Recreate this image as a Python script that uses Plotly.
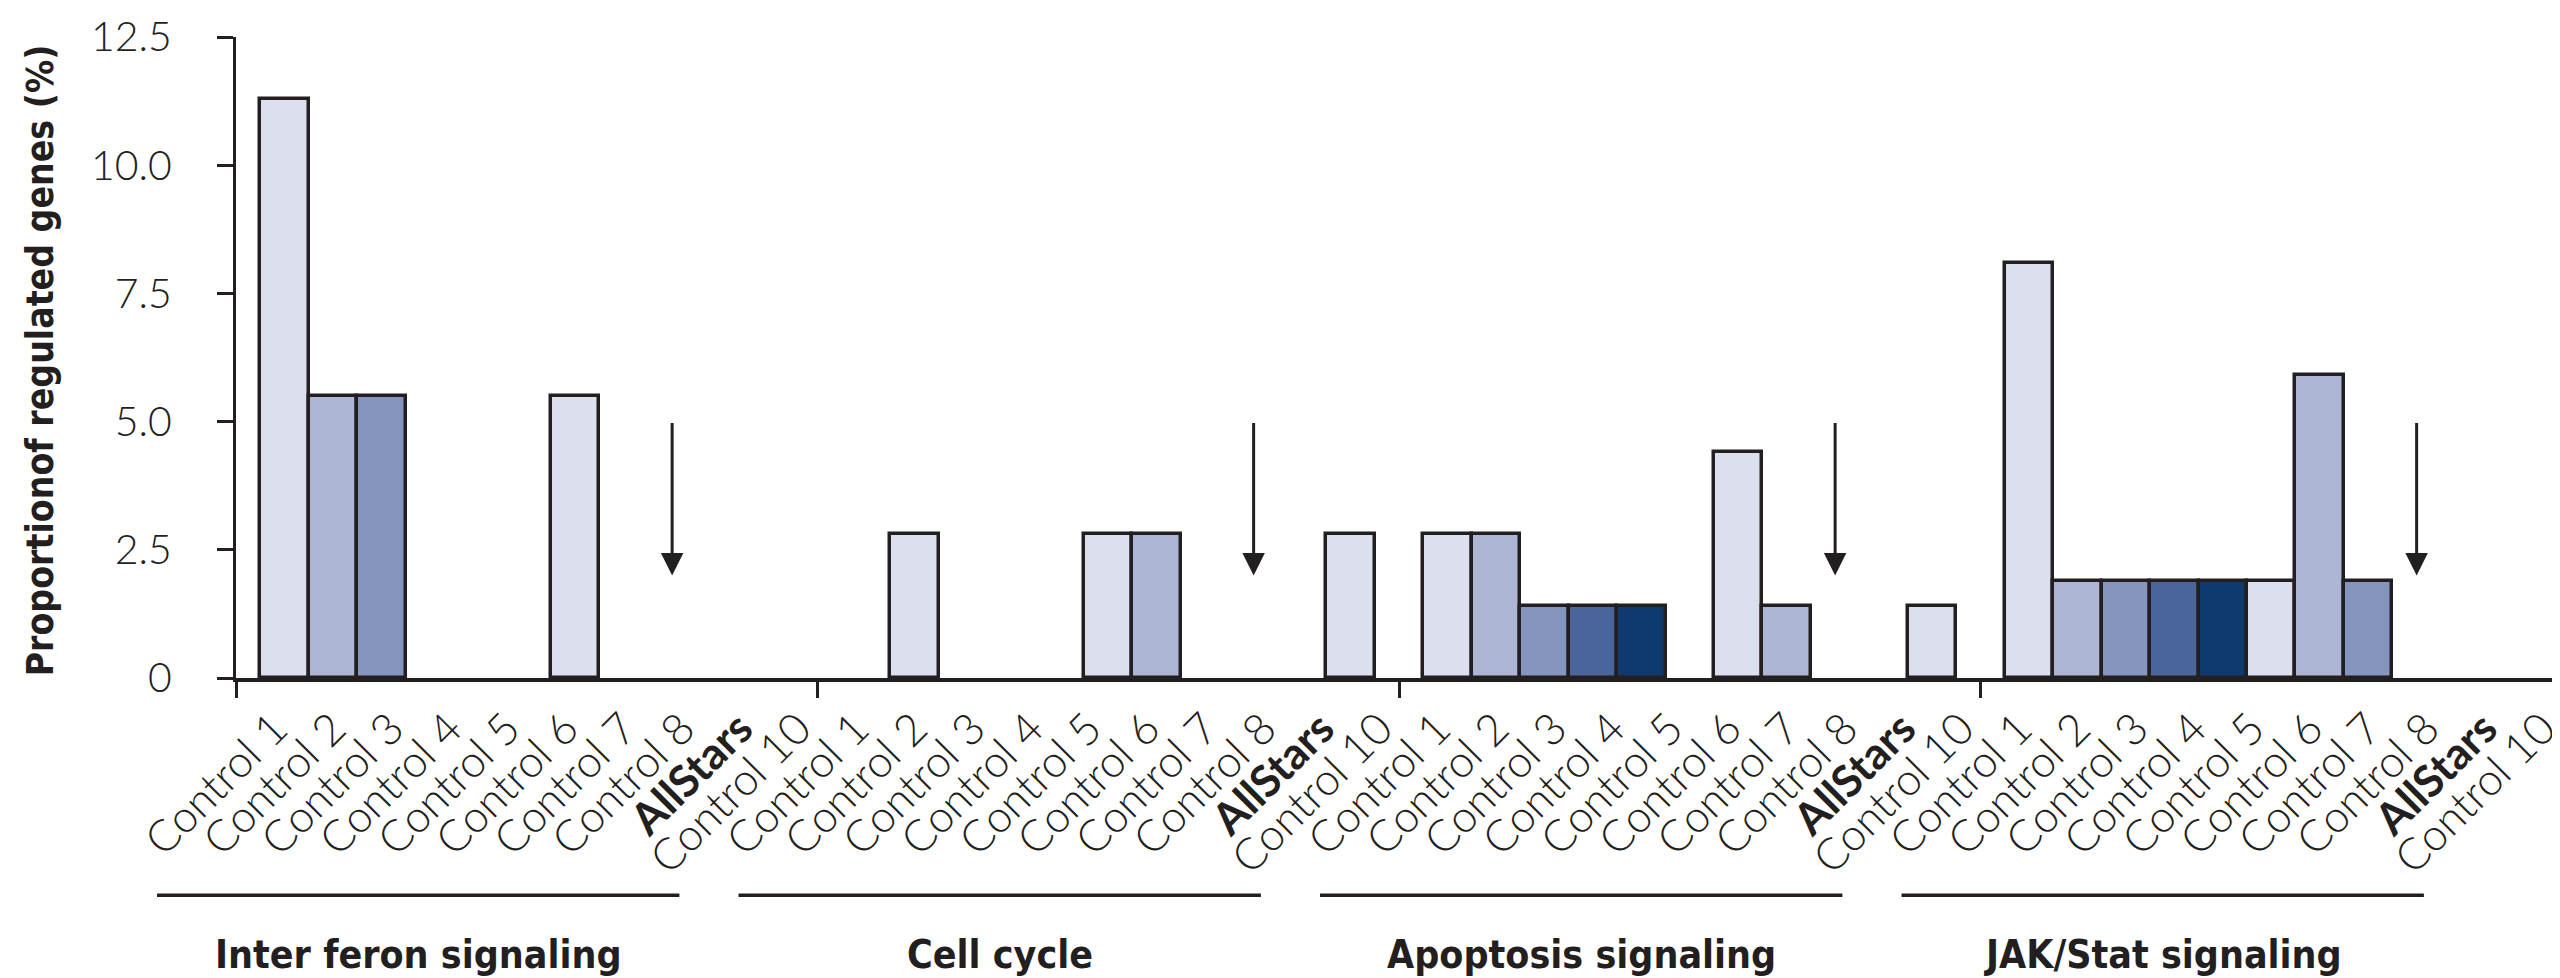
import plotly.graph_objects as go

# ---------------- data ----------------
groups = ["Inter feron signaling", "Cell cycle", "Apoptosis signaling", "JAK/Stat signaling"]
sample_labels = ["Control 1", "Control 2", "Control 3", "Control 4", "Control 5",
                 "Control 6", "Control 7", "Control 8", "AllStars", "Control 10"]

# bar heights (%) per group, by bar slot (slot 10 sits in the gap after the group)
interferon = [11.3, 5.5, 5.5, None, None, None, 5.5, None, None, None, None]
cell_cycle = [None, 2.8, None, None, None, 2.8, 2.8, None, None, None, 2.8]
apoptosis = [2.8, 2.8, 1.4, 1.4, 1.4, None, 4.4, 1.4, None, None, 1.4]
jak_stat = [8.1, 1.9, 1.9, 1.9, 1.9, 1.9, 5.9, 1.9, None, None, None]

# shade index of each bar (0 = lightest ... 4 = darkest)
interferon_shade = [0, 1, 2, None, None, None, 0, None, None, None, None]
cell_cycle_shade = [None, 0, None, None, None, 0, 1, None, None, None, 0]
apoptosis_shade = [0, 1, 2, 3, 4, None, 0, 1, None, None, 0]
jak_stat_shade = [0, 1, 2, 3, 4, 0, 1, 2, None, None, None]

y_tick_vals = [0, 2.5, 5, 7.5, 10, 12.5]
y_tick_text = ["0", "2.5", "5.0", "7.5", "10.0", "12.5"]

allstars_slot = 8        # arrow marks AllStars (no regulated genes)
arrow_from = 5.0
arrow_to = 2.0

# ---------------- styling ----------------
palette = ["#DCDFEE", "#AEB6D6", "#8695C0", "#4A659C", "#0F3A6F"]
INK = "#231F20"
LABEL_FONT = "Lato"
BOLD_FONT = "DejaVu Sans Condensed, DejaVu Sans"
SLOTS = 12                      # axis units per group
LABEL_SHIFT = 0.2               # small rightward nudge of the category labels
N_GROUPS = len(groups)

values = [interferon, cell_cycle, apoptosis, jak_stat]
shades = [interferon_shade, cell_cycle_shade, apoptosis_shade, jak_stat_shade]

bx, by, bc = [], [], []
for g in range(N_GROUPS):
    for s, (v, sh) in enumerate(zip(values[g], shades[g])):
        if v is None:
            continue
        bx.append(g * SLOTS + s + 1)
        by.append(v)
        bc.append(palette[sh])

fig = go.Figure()
fig.add_trace(go.Bar(
    x=bx, y=by, width=1.0,
    marker=dict(color=bc, line=dict(color=INK, width=3.5)),
    showlegend=False, hoverinfo="y",
))

# category labels on an overlaid axis, 10 evenly spaced per group
lab_vals, lab_text = [], []
for g in range(N_GROUPS):
    n = len(sample_labels)
    for j, lab in enumerate(sample_labels):
        lab_vals.append(g * SLOTS + (j + 0.5) * SLOTS / n + LABEL_SHIFT)
        lab_text.append("<b>%s</b>" % lab if lab == "AllStars" else lab)

fig.add_trace(go.Scatter(
    x=[lab_vals[0], lab_vals[-1]], y=[0, 0], xaxis="x2", yaxis="y",
    mode="markers", marker=dict(size=1, opacity=0),
    showlegend=False, hoverinfo="skip",
))

# arrows at AllStars
for g in range(N_GROUPS):
    xa = g * SLOTS + allstars_slot + 1
    fig.add_annotation(
        x=xa, y=arrow_to, ax=xa, ay=arrow_from,
        xref="x", yref="y", axref="x", ayref="y",
        text="", showarrow=True, arrowhead=2, arrowsize=1.5,
        arrowwidth=3, arrowcolor=INK, standoff=0,
    )

# group underlines and titles
total = SLOTS * N_GROUPS
bold_font = dict(family=BOLD_FONT, size=39, color=INK, weight="bold")
for g, name in enumerate(groups):
    x0 = (g * SLOTS - 1.63) / total
    x1 = (g * SLOTS + 9.15) / total
    fig.add_shape(type="line", xref="paper", yref="paper",
                  x0=x0, x1=x1, y0=-0.339, y1=-0.339,
                  line=dict(color=INK, width=3.5))
    fig.add_annotation(
        x=(x0 + x1) / 2, y=-0.432, xref="paper", yref="paper",
        text=name, showarrow=False,
        xanchor="center", yanchor="middle",
        font=bold_font,
    )

# y-axis title
fig.add_annotation(
    x=-0.084, y=0.495, xref="paper", yref="paper",
    text="Proportionof regulated genes (%)", textangle=-90,
    showarrow=False, xanchor="center", yanchor="middle",
    font=dict(bold_font, size=37),
)

fig.update_layout(
    width=2560, height=978,
    margin=dict(l=228, r=3, t=22, b=308),
    paper_bgcolor="white", plot_bgcolor="white",
    bargap=0,
    xaxis=dict(
        range=[0, total], showgrid=False, zeroline=False,
        showline=True, linecolor=INK, linewidth=3.5,
        tickvals=[g * SLOTS for g in range(N_GROUPS + 1)],
        ticks="outside", ticklen=16, tickwidth=3, tickcolor=INK,
        showticklabels=False,
    ),
    xaxis2=dict(
        range=[0, total], overlaying="x", side="bottom", anchor="y",
        showgrid=False, zeroline=False, showline=False, ticks="",
        tickvals=lab_vals, ticktext=lab_text, tickangle=-45,
        tickfont=dict(family=LABEL_FONT, size=44, color=INK, weight=300),
        ticklabelstandoff=15,
    ),
    yaxis=dict(
        range=[0, 12.5], showgrid=False, zeroline=False,
        showline=True, linecolor=INK, linewidth=3,
        tickvals=y_tick_vals, ticktext=y_tick_text,
        ticks="outside", ticklen=16, tickwidth=3, tickcolor=INK,
        tickfont=dict(family=LABEL_FONT, size=41, color=INK, weight=300),
        ticklabelstandoff=37, ticklabeloverflow="allow",
    ),
)

fig.write_html("out.html")
